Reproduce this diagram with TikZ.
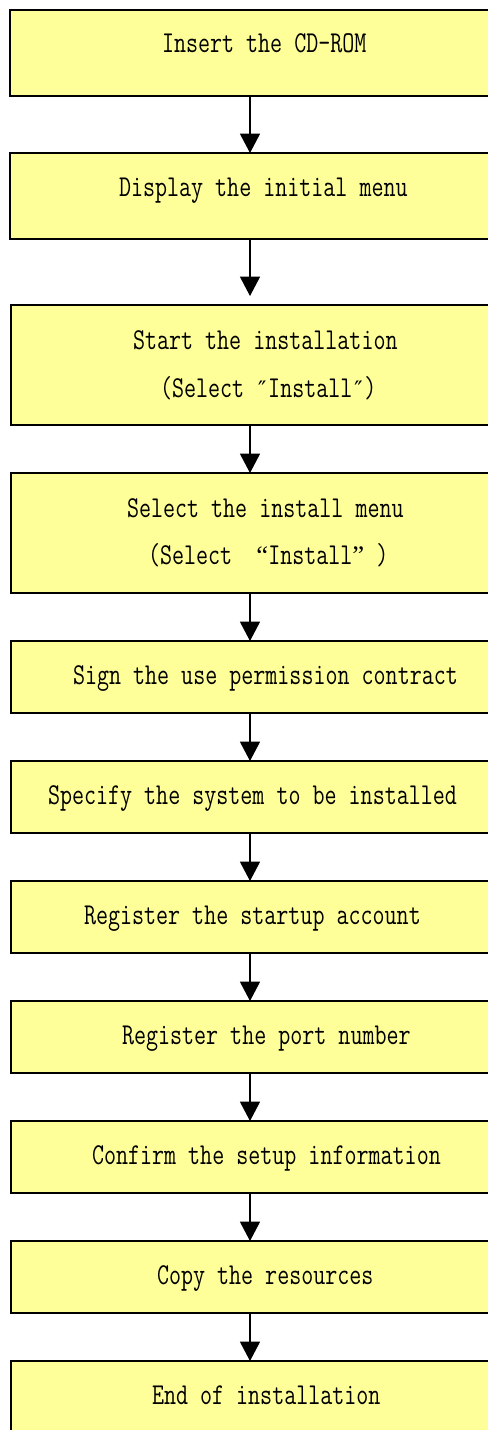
\documentclass[tikz,border=0pt]{standalone}
\usepackage{fontspec}
\usetikzlibrary{arrows.meta}
\setmonofont[FakeStretch=0.77]{Latin Modern Mono}
\newfontfamily\primefont{DejaVu Sans Mono}
\newfontfamily\quotefont{Liberation Serif}
\definecolor{boxyellow}{HTML}{FFFF99}
\newcommand{\dprime}{\makebox[9pt]{\primefont\fontsize{17pt}{18pt}\selectfont ″}}
\newcommand{\openq}{\makebox[9pt][r]{\quotefont\fontsize{20pt}{20pt}\selectfont “}}
\newcommand{\closeq}{\makebox[9pt][l]{\quotefont\fontsize{20pt}{20pt}\selectfont ”}}
\begin{document}
\begin{tikzpicture}[x=0.75pt,y=-0.75pt,
  stepbox/.style={draw=black, line width=1.1pt, fill=boxyellow, rectangle,
    inner sep=0pt, outer sep=0pt, minimum width=510*0.75pt},
  txt/.style={anchor=base west, inner sep=0pt, outer sep=0pt,
    font=\ttfamily\fontsize{22.75pt}{24pt}\selectfont, text=black},
  arr/.style={line width=1pt, -{Triangle[width=15pt,length=14.5pt]}}]
\useasboundingbox (0,0) rectangle (488,1430);
\clip (0,0) rectangle (488,1430);
\fill[white] (0,0) rectangle (488,1430);
% boxes
\node[stepbox, minimum height=86*0.75pt] (b1) at (265,53) {};
\node[stepbox, minimum height=86*0.75pt] (b2) at (265,196) {};
\node[stepbox, minimum height=120*0.75pt] (b3) at (266,365) {};
\node[stepbox, minimum height=120*0.75pt] (b4) at (266,533) {};
\node[stepbox, minimum height=72*0.75pt] (b5) at (266,677) {};
\node[stepbox, minimum height=72*0.75pt] (b6) at (266,797) {};
\node[stepbox, minimum height=72*0.75pt] (b7) at (266,917) {};
\node[stepbox, minimum height=72*0.75pt] (b8) at (266,1037) {};
\node[stepbox, minimum height=72*0.75pt] (b9) at (266,1157) {};
\node[stepbox, minimum height=72*0.75pt] (b10) at (266,1277) {};
\node[stepbox, minimum height=86*0.75pt] (b11) at (266,1404) {};
% texts
\node[txt] (t1) at (162,53) {Insert the CD-ROM};
\node[txt] (t2) at (119,197) {Display the initial menu};
\node[txt] (t3a) at (133,349) {Start the installation};
\node[txt] (t3b) at (160,397) {(Select \dprime{}Install\dprime)};
\node[txt] (t4a) at (127,517) {Select the install menu};
\node[txt] (t4b) at (148,564) {(Select\ \ \openq{}Install\closeq\ )};
\node[txt] (t5) at (73,684) {Sign the use permission contract};
\node[txt] (t6) at (48,804) {Specify the system to be installed};
\node[txt] (t7) at (84,924) {Register the startup account};
\node[txt] (t8) at (122,1044) {Register the port number};
\node[txt] (t9) at (92,1164) {Confirm the setup information};
\node[txt] (t10) at (157,1284) {Copy the resources};
\node[txt] (t11) at (152,1404) {End of installation};
% connectors
\coordinate (ax) at (250,0);
\coordinate (a2end) at (250,296);
\draw[arr] (b1.south -| ax) -- (b2.north -| ax);
\draw[arr] (b2.south -| ax) -- (a2end);
\draw[arr] (b3.south -| ax) -- (b4.north -| ax);
\draw[arr] (b4.south -| ax) -- (b5.north -| ax);
\draw[arr] (b5.south -| ax) -- (b6.north -| ax);
\draw[arr] (b6.south -| ax) -- (b7.north -| ax);
\draw[arr] (b7.south -| ax) -- (b8.north -| ax);
\draw[arr] (b8.south -| ax) -- (b9.north -| ax);
\draw[arr] (b9.south -| ax) -- (b10.north -| ax);
\draw[arr] (b10.south -| ax) -- (b11.north -| ax);
\end{tikzpicture}
\end{document}
